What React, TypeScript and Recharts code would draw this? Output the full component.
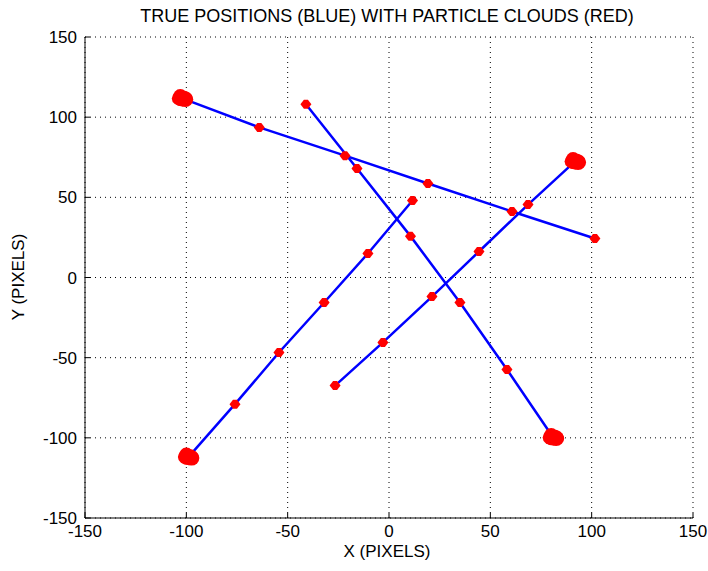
import { ScatterChart, Scatter, XAxis, YAxis, CartesianGrid } from 'recharts';

// true trajectories, sampled where the particle clouds were drawn (first point = initial wide cloud)
const trackA = [
  { x: -102, y: 111.7 },
  { x: -64, y: 93.6 },
  { x: -21.7, y: 76 },
  { x: 19.2, y: 58.6 },
  { x: 60.7, y: 41.2 },
  { x: 101.6, y: 24.3 },
];
const trackB = [
  { x: 81, y: -99.8 },
  { x: 58.2, y: -57.4 },
  { x: 35, y: -15.6 },
  { x: 10.6, y: 25.8 },
  { x: -15.8, y: 68 },
  { x: -41, y: 108 },
];
const trackC = [
  { x: -99, y: -112 },
  { x: -76, y: -79 },
  { x: -54.3, y: -46.8 },
  { x: -32, y: -15.6 },
  { x: -10.4, y: 15 },
  { x: 11.6, y: 48 },
];
const trackD = [
  { x: 91.8, y: 72.4 },
  { x: 68.6, y: 45.5 },
  { x: 44.4, y: 16.2 },
  { x: 21.2, y: -11.9 },
  { x: -3, y: -40.5 },
  { x: -26.6, y: -67.4 },
];

const tracks = [trackA, trackB, trackC, trackD];
const axisTicks = [-150, -100, -50, 0, 50, 100, 150];

const FONT = '"Liberation Sans", Arial, Helvetica, sans-serif';

const clouds = tracks.flatMap((t) => t.map((p, i) => ({ ...p, start: i === 0 })));

const CloudShape = (props: any) => {
  const { cx, cy, payload } = props;
  if (cx == null || cy == null) return <g />;
  if (payload.start) {
    return (
      <g fill="#ff0000">
        <ellipse cx={cx} cy={cy} rx={10.5} ry={8} />
        <ellipse cx={cx - 2} cy={cy - 1} rx={7.5} ry={8.5} />
        <ellipse cx={cx + 3} cy={cy + 1} rx={8} ry={7.5} />
      </g>
    );
  }
  return (
    <path
      d={`M${cx - 5.5},${cy} L${cx - 2},${cy - 4.5} L${cx + 2},${cy - 4.5} L${cx + 5.5},${cy} L${cx + 2},${cy + 4.5} L${cx - 2},${cy + 4.5} Z`}
      fill="#ff0000"
    />
  );
};

const XTick = ({ x, y, payload }: any) => (
  <g>
    <line x1={x} y1={y} x2={x} y2={y - 5} stroke="#000" />
    <text x={x} y={y + 19} textAnchor="middle" fontSize={17} fontFamily={FONT} fill="#000">
      {payload.value}
    </text>
  </g>
);

const YTick = ({ x, y, payload }: any) => (
  <g>
    <line x1={x} y1={y} x2={x + 5} y2={y} stroke="#000" />
    <text x={x - 8} y={y + 6} textAnchor="end" fontSize={17} fontFamily={FONT} fill="#000">
      {payload.value}
    </text>
  </g>
);

export default function App() {
  return (
    <div style={{ position: 'absolute', left: 0, top: 0, width: 708, height: 571, background: '#fff', fontFamily: FONT }}>
      <ScatterChart width={708} height={571} margin={{ top: 37, right: 15, bottom: 0, left: 0 }}>
        <CartesianGrid stroke="#000" strokeDasharray="1 4" />
        <XAxis
          type="number"
          dataKey="x"
          domain={[-150, 150]}
          ticks={axisTicks}
          height={53}
          tickSize={0}
          tickMargin={0}
          tickLine={false}
          tick={<XTick />}
          axisLine={{ stroke: '#000' }}
          allowDataOverflow
        />
        <YAxis
          type="number"
          dataKey="y"
          domain={[-150, 150]}
          ticks={axisTicks}
          width={85}
          tickSize={0}
          tickMargin={0}
          tickLine={false}
          tick={<YTick />}
          axisLine={{ stroke: '#000' }}
          allowDataOverflow
        />
        {tracks.map((t, i) => (
          <Scatter
            key={`line-${i}`}
            data={t}
            line={{ stroke: '#0000ff', strokeWidth: 2.5 }}
            lineType="joint"
            shape={() => <g />}
            isAnimationActive={false}
          />
        ))}
        <Scatter data={clouds} shape={<CloudShape />} isAnimationActive={false} />
      </ScatterChart>
      <div style={{ position: 'absolute', top: 6, left: 0, width: 774, textAlign: 'center', fontSize: 18, color: '#000' }}>
        TRUE POSITIONS (BLUE) WITH PARTICLE CLOUDS (RED)
      </div>
      <div style={{ position: 'absolute', top: 542, left: 287, width: 200, textAlign: 'center', fontSize: 17, color: '#000' }}>
        X (PIXELS)
      </div>
      <div
        style={{
          position: 'absolute',
          left: 19,
          top: 277,
          transform: 'translate(-50%, -50%) rotate(-90deg)',
          whiteSpace: 'nowrap',
          fontSize: 17,
          color: '#000',
        }}
      >
        Y (PIXELS)
      </div>
    </div>
  );
}
